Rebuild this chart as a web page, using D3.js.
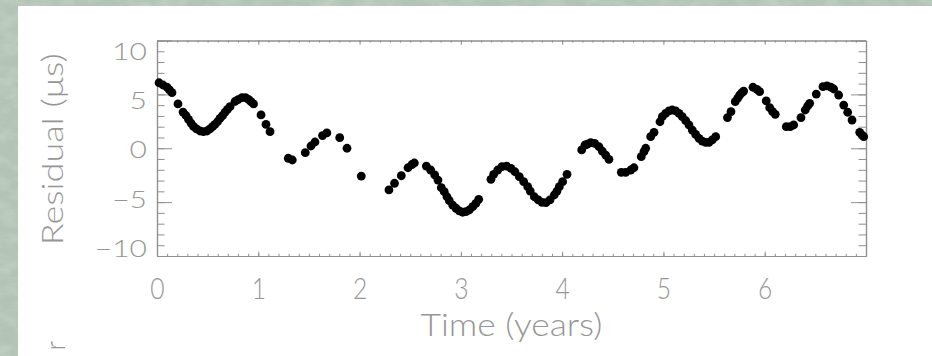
<!DOCTYPE html>
<html>
<head>
<meta charset="utf-8">
<script src="https://cdn.jsdelivr.net/npm/d3@7/dist/d3.min.js"></script>
<style>
  html, body { margin: 0; padding: 0; background: #b6c6b8; }
  svg { display: block; }
  .lbl { font-family: "Lato", "Open Sans", "DejaVu Sans", sans-serif; font-weight: 300; fill: #969696; }
</style>
</head>
<body>
<svg id="chart" width="932" height="356"></svg>
<script>
// Timing residuals (microseconds) against time (years)
const timeYears = [
  0.020, 0.059, 0.099, 0.123, 0.148, 0.207, 0.257, 0.286, 0.311, 0.336,
  0.360, 0.390, 0.425, 0.459, 0.494, 0.523, 0.548, 0.573, 0.597, 0.622,
  0.647, 0.671, 0.696, 0.721, 0.770, 0.800, 0.839, 0.874, 0.903, 0.928,
  0.953, 1.027, 1.076, 1.116, 1.296, 1.336, 1.464, 1.520, 1.560, 1.634,
  1.677, 1.804, 1.876, 2.017, 2.290, 2.345, 2.412, 2.478, 2.517, 2.541,
  2.659, 2.702, 2.742, 2.774, 2.807, 2.836, 2.863, 2.886, 2.919, 2.952,
  2.984, 3.018, 3.050, 3.083, 3.117, 3.149, 3.176, 3.297, 3.324, 3.364,
  3.406, 3.452, 3.495, 3.534, 3.577, 3.620, 3.660, 3.685, 3.725, 3.764,
  3.801, 3.840, 3.880, 3.922, 3.949, 3.972, 4.005, 4.048, 4.193, 4.225,
  4.248, 4.282, 4.321, 4.364, 4.396, 4.430, 4.462, 4.584, 4.627, 4.677,
  4.709, 4.781, 4.808, 4.825, 4.874, 4.907, 4.966, 4.989, 5.022, 5.055,
  5.087, 5.121, 5.154, 5.186, 5.220, 5.252, 5.285, 5.318, 5.351, 5.383,
  5.417, 5.450, 5.482, 5.516, 5.632, 5.667, 5.709, 5.733, 5.753, 5.776,
  5.792, 5.884, 5.923, 5.950, 6.015, 6.049, 6.078, 6.104, 6.213, 6.252,
  6.286, 6.358, 6.400, 6.424, 6.444, 6.509, 6.575, 6.615, 6.654, 6.681,
  6.730, 6.780, 6.819, 6.862, 6.938, 6.960, 6.977
];
const residualUs = [
  6.08, 5.87, 5.66, 5.41, 5.16, 4.11, 3.36, 3.04, 2.67, 2.34,
  2.02, 1.79, 1.60, 1.54, 1.60, 1.79, 2.00, 2.22, 2.46, 2.78,
  3.02, 3.34, 3.61, 3.86, 4.34, 4.52, 4.69, 4.69, 4.54, 4.32,
  4.11, 3.09, 2.22, 1.54, -0.93, -1.09, -0.41, 0.21, 0.58, 1.18,
  1.42, 0.98, 0.00, -2.58, -3.87, -3.25, -2.55, -1.81, -1.51, -1.37,
  -1.65, -2.02, -2.48, -2.95, -3.66, -4.03, -4.50, -4.87, -5.27, -5.57,
  -5.82, -5.94, -5.89, -5.73, -5.42, -5.11, -4.74, -2.88, -2.42, -2.02,
  -1.71, -1.65, -1.86, -2.18, -2.64, -3.10, -3.57, -3.97, -4.50, -4.80,
  -5.02, -5.05, -4.80, -4.34, -3.97, -3.57, -3.10, -2.42, -0.16, 0.30,
  0.37, 0.52, 0.46, 0.14, -0.26, -0.63, -1.03, -2.23, -2.23, -2.02,
  -1.81, -0.78, -0.32, 0.00, 1.07, 1.48, 2.46, 2.93, 3.24, 3.46,
  3.55, 3.46, 3.24, 2.93, 2.56, 2.16, 1.69, 1.29, 0.92, 0.67,
  0.55, 0.55, 0.77, 1.07, 2.85, 3.39, 4.32, 4.64, 4.94, 5.16,
  5.31, 5.66, 5.47, 5.25, 4.39, 3.76, 3.39, 3.15, 2.00, 2.00,
  2.16, 2.84, 3.55, 3.92, 4.17, 5.03, 5.71, 5.78, 5.66, 5.50,
  4.94, 4.01, 3.34, 2.62, 1.48, 1.23, 1.07
];

const xTickValues = [0, 1, 2, 3, 4, 5, 6];
const xTickLabels = ["0", "1", "2", "3", "4", "5", "6"];
const yTickValues = [-10, -5, 0, 5, 10];
const yTickLabels = ["\u221210", "\u22125", "0", "5", "10"];
const xMinorValues = d3.range(0, 70).map(i => i / 10);
const yMinorValues = d3.range(-10, 11);
const xTitle = "Time (years)";
const yTitle = "Residual (\u03bcs)";

const W = 932, H = 356;
const plot = { left: 157, right: 866, top: 40.5, bottom: 256 };

const svg = d3.select("#chart");
const defs = svg.append("defs");

// mottled stone texture for the page surround
const f = defs.append("filter").attr("id", "stone")
  .attr("x", 0).attr("y", 0).attr("width", 1).attr("height", 1);
f.append("feTurbulence").attr("type", "fractalNoise")
  .attr("baseFrequency", "0.05 0.09").attr("numOctaves", 4).attr("seed", 7);
f.append("feColorMatrix").attr("type", "matrix")
  .attr("values", "0 0 0 0 0.82  0 0 0 0 0.87  0 0 0 0 0.83  0.9 0 0 0 -0.36");

svg.append("rect").attr("width", W).attr("height", H).attr("fill", "#b3c4b6");
svg.append("rect").attr("width", W).attr("height", H).attr("filter", "url(#stone)").attr("opacity", 0.6);

// white slide panel
svg.append("rect").attr("x", 18).attr("y", 6).attr("width", W - 18).attr("height", H - 6).attr("fill", "#ffffff");

const x = d3.scaleLinear().domain([0, 7]).range([plot.left, plot.right]);
const y = d3.scaleLinear().domain([-10, 10]).range([plot.bottom, plot.top]);
// tick labels sit slightly inset toward the middle of the axis
const yLabel = d3.scaleLinear().domain([-10, 10]).range([247.5, 51]);

const axisColor = "#8f8f8f";
const yMajorLen = 15, yMinorLen = 7.5, xMajorLen = 4.3, xMinorLen = 2.2;

function styleAxis(g) {
  g.selectAll("path.domain").attr("stroke", axisColor).attr("stroke-width", 1.2);
  g.selectAll(".tick line").attr("stroke", axisColor).attr("stroke-width", 1);
  g.selectAll("text").remove();
}

// four-sided frame with inward ticks
const frame = svg.append("g");
frame.append("g").attr("transform", `translate(0,${plot.bottom})`)
  .call(d3.axisBottom(x).tickValues(xMinorValues).tickSize(-xMinorLen).tickSizeOuter(0)).call(styleAxis);
frame.append("g").attr("transform", `translate(0,${plot.bottom})`)
  .call(d3.axisBottom(x).tickValues(xTickValues).tickSize(-xMajorLen).tickSizeOuter(0)).call(styleAxis);
frame.append("g").attr("transform", `translate(0,${plot.top})`)
  .call(d3.axisTop(x).tickValues(xMinorValues).tickSize(-xMinorLen).tickSizeOuter(0)).call(styleAxis);
frame.append("g").attr("transform", `translate(0,${plot.top})`)
  .call(d3.axisTop(x).tickValues(xTickValues).tickSize(-xMajorLen).tickSizeOuter(0)).call(styleAxis);
frame.append("g").attr("transform", `translate(${plot.left},0)`)
  .call(d3.axisLeft(y).tickValues(yMinorValues).tickSize(-yMinorLen).tickSizeOuter(0)).call(styleAxis);
frame.append("g").attr("transform", `translate(${plot.left},0)`)
  .call(d3.axisLeft(y).tickValues(yTickValues).tickSize(-yMajorLen).tickSizeOuter(0)).call(styleAxis);
frame.append("g").attr("transform", `translate(${plot.right},0)`)
  .call(d3.axisRight(y).tickValues(yMinorValues).tickSize(-yMinorLen).tickSizeOuter(0)).call(styleAxis);
frame.append("g").attr("transform", `translate(${plot.right},0)`)
  .call(d3.axisRight(y).tickValues(yTickValues).tickSize(-yMajorLen).tickSizeOuter(0)).call(styleAxis);

// tick labels
const xl = svg.append("g").attr("transform", `translate(0,${plot.bottom})`)
  .call(d3.axisBottom(x).tickValues(xTickValues).tickSize(0).tickPadding(22)
    .tickFormat((d, i) => xTickLabels[i]));
xl.select("path.domain").remove();
xl.selectAll("text").attr("class", "lbl").attr("font-size", 29)
  .attr("transform", "scale(0.85,1)");

const yl = svg.append("g").attr("transform", `translate(${plot.left},0)`)
  .call(d3.axisLeft(yLabel).tickValues(yTickValues).tickSize(0).tickPadding(8)
    .tickFormat((d, i) => yTickLabels[i]));
yl.select("path.domain").remove();
yl.selectAll("text").attr("class", "lbl").attr("font-size", 24)
  .attr("dy", "0.36em").attr("transform", "scale(1.25,1)");

// axis titles
svg.append("text").attr("class", "lbl")
  .attr("x", (plot.left + plot.right) / 2).attr("y", 336)
  .attr("text-anchor", "middle").attr("font-size", 31)
  .attr("textLength", 182).attr("lengthAdjust", "spacingAndGlyphs")
  .text(xTitle);

svg.append("text").attr("class", "lbl")
  .attr("transform", `translate(63,${(plot.top + plot.bottom) / 2 + 1}) rotate(-90)`)
  .attr("text-anchor", "middle").attr("font-size", 30)
  .attr("textLength", 192).attr("lengthAdjust", "spacingAndGlyphs")
  .text(yTitle);

// tail of a lower panel's axis title
svg.append("text").attr("class", "lbl")
  .attr("transform", "translate(65,341) rotate(-90)")
  .attr("text-anchor", "end").attr("font-size", 27)
  .text("r");

// residual points
svg.append("g").selectAll("circle")
  .data(timeYears.map((t, i) => [t, residualUs[i]]))
  .join("circle")
  .attr("cx", d => x(d[0]))
  .attr("cy", d => y(d[1]))
  .attr("r", 4.4)
  .attr("fill", "#000");
</script>
</body>
</html>
